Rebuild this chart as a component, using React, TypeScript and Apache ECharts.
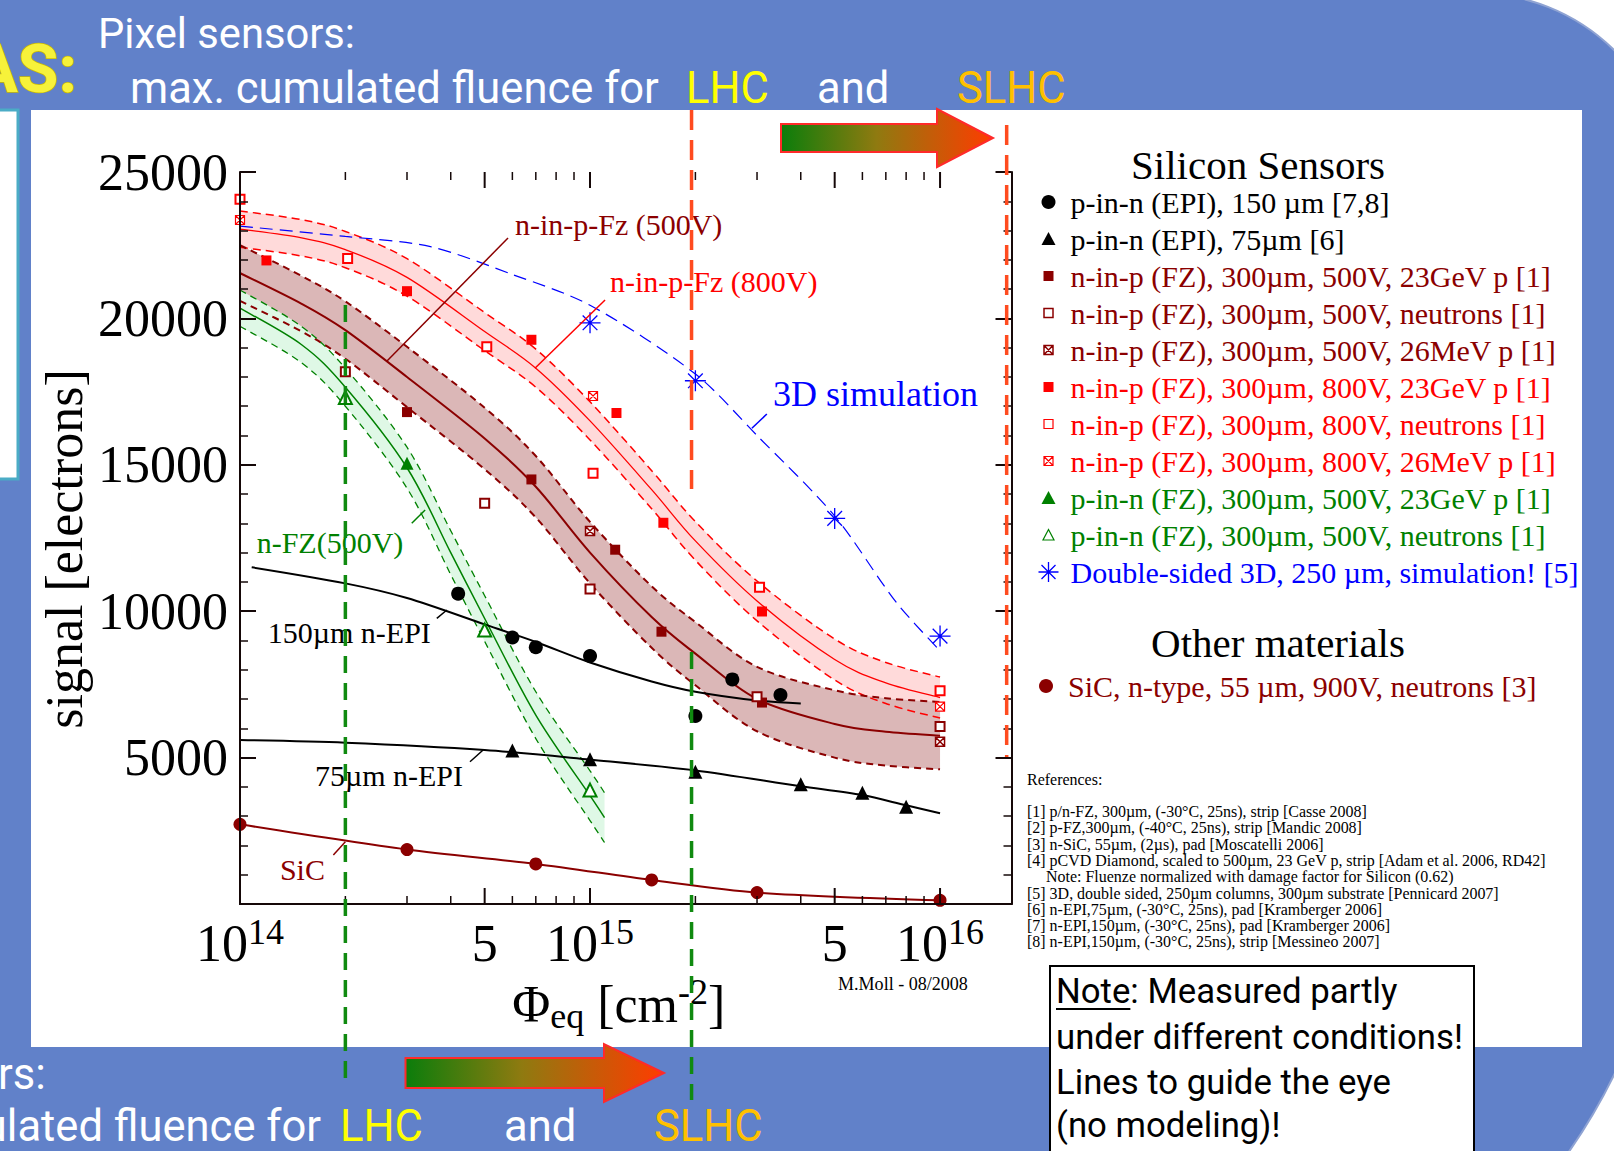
import React, { useEffect, useRef } from 'react';
import * as echarts from 'echarts';

const SERIF = '"Liberation Serif", "Times New Roman", serif';
const SANS = 'Roboto, "Open Sans", sans-serif';
const MAROON = '#8b0000';
const RED = '#ff0000';
const GREEN = '#008000';
const BLUE = '#0000ff';
const BLACK = '#000000';
const AXIS = '#150808';

// ---------- axes ----------
const X_MIN = 1e14;
const X_MAX = 1.6e16;
const Y_MIN = 0;
const Y_MAX = 25000;
const Y_STEP = 5000;
const xMajorTicks = [5e14, 1e15, 5e15, 1e16];
const xMinorTicks = [2e14, 3e14, 4e14, 6e14, 7e14, 8e14, 9e14, 2e15, 3e15, 4e15, 6e15, 7e15, 8e15, 9e15];
const xFiveLabels = [5e14, 5e15];

// ---------- guide bands (center +- half width) ----------
const bandX = [1e14, 1.5e14, 2e14, 3e14, 5e14, 7e14, 1e15, 1.5e15, 2e15, 3e15, 5e15, 7e15, 1e16];
const band800Center = [23050, 22750, 22350, 21400, 19550, 18300, 16500, 14150, 12400, 10350, 8350, 7550, 7050];
const band800Half = [620, 620, 620, 640, 650, 650, 650, 650, 660, 680, 700, 700, 700];
const band500Center = [21550, 20500, 19600, 18000, 15900, 14250, 12000, 9800, 8550, 7000, 6150, 5880, 5750];
const band500Half = [950, 950, 980, 1030, 1050, 1050, 1050, 1050, 1080, 1100, 1150, 1150, 1150];
const bandFzX = [1e14, 1.5e14, 2e14, 3e14, 4e14, 5e14, 7e14, 1e15, 1.1e15];
const bandFzCenter = [20350, 19100, 17650, 14900, 12000, 9750, 6450, 3700, 2950];
const bandFzHalf = [620, 620, 650, 700, 750, 780, 800, 850, 850];

// ---------- guide lines ----------
const epi150LineX = [1.08e14, 2e14, 3e14, 5e14, 7e14, 1e15, 1.5e15, 2e15, 3e15, 4e15];
const epi150LineY = [11500, 10950, 10450, 9550, 8950, 8250, 7600, 7250, 6950, 6850];
const epi75LineX = [1e14, 2e14, 5e14, 1e15, 2e15, 4e15, 6e15, 8e15, 1e16];
const epi75LineY = [5600, 5510, 5260, 4930, 4560, 4020, 3720, 3370, 3100];
const sim3dLineX = [1e14, 2e14, 3.5e14, 6e14, 1e15, 2e15, 3e15, 5e15, 7.5e15, 1e16];
const sim3dLineY = [23150, 22800, 22450, 21500, 20450, 18100, 16000, 13250, 10300, 8650];

// ---------- measured points ----------
const epi150X = [4.2e14, 6e14, 7e14, 1e15, 2e15, 2.55e15, 3.5e15];
const epi150Y = [10600, 9100, 8770, 8470, 6420, 7670, 7140];
const epi75X = [6e14, 1e15, 2e15, 4e15, 6e15, 8e15];
const epi75Y = [5240, 4940, 4520, 4090, 3800, 3320];
const fz500pX = [3e14, 6.8e14, 1.18e15, 1.6e15, 3.1e15];
const fz500pY = [16800, 14500, 12100, 9300, 6880];
const fz500nX = [2e14, 5e14, 1e15, 3e15, 1e16];
const fz500nY = [18180, 13690, 10760, 7080, 6060];
const fz500mX = [1e15, 1e16];
const fz500mY = [12740, 5540];
const fz800pX = [1.19e14, 3e14, 6.8e14, 1.19e15, 1.62e15, 3.1e15];
const fz800pY = [21980, 20930, 19270, 16770, 13020, 9990];
const fz800nX = [1e14, 2.03e14, 5.07e14, 1.02e15, 3.05e15, 1e16];
const fz800nY = [24070, 22050, 19030, 14710, 10820, 7280];
const fz800mX = [1e14, 1.02e15, 1e16];
const fz800mY = [23360, 17350, 6740];
const pfzpX = [3e14];
const pfzpY = [15050];
const pfznX = [2e14, 5e14, 1e15];
const pfznY = [17300, 9360, 3890];
const sim3dX = [1e15, 2e15, 5e15, 1e16];
const sim3dY = [19850, 17870, 13170, 9150];
const sicX = [1e14, 3e14, 7e14, 1.5e15, 3e15, 1e16];
const sicY = [2720, 1860, 1370, 820, 390, 125];

// ---------- legend ----------
const siliconNames = [
  'p-in-n (EPI), 150 µm [7,8]',
  'p-in-n (EPI), 75µm [6]',
  'n-in-p (FZ), 300µm, 500V, 23GeV p [1]',
  'n-in-p (FZ), 300µm, 500V, neutrons [1]',
  'n-in-p (FZ), 300µm, 500V, 26MeV p [1]',
  'n-in-p (FZ), 300µm, 800V, 23GeV p [1]',
  'n-in-p (FZ), 300µm, 800V, neutrons [1]',
  'n-in-p (FZ), 300µm, 800V, 26MeV p [1]',
  'p-in-n (FZ), 300µm, 500V, 23GeV p [1]',
  'p-in-n (FZ), 300µm, 500V, neutrons [1]',
  'Double-sided 3D, 250 µm, simulation! [5]',
];
const siliconColors = [BLACK, BLACK, MAROON, MAROON, MAROON, RED, RED, RED, GREEN, GREEN, BLUE];
const otherNames = ['SiC, n-type, 55 µm, 900V, neutrons [3]'];

// ---------- curve annotations ----------
const annotTexts = ['n-in-p-Fz (500V)', 'n-in-p-Fz (800V)', '3D simulation', 'n-FZ(500V)', '150µm n-EPI', '75µm n-EPI', 'SiC'];
const annotColors = [MAROON, RED, BLUE, GREEN, BLACK, BLACK, MAROON];
const annotSizes = [30, 30, 36, 30, 30, 30, 30];
const annotX = [6.1e14, 1.14e15, 3.33e15, 1.116e14, 1.2e14, 1.637e14, 1.3e14];
const annotY = [23224, 21260, 17418, 12347, 9273, 4372, 1178];
const pointerFromX = [2.63e14, 6.96e14, 2.9e15, 3.095e14, 3.65e14, 4.54e14, 1.848e14];
const pointerFromY = [18545, 18296, 16247, 13002, 9757, 4860, 1673];
const pointerToX = [5.83e14, 1.104e15, 3.2e15, 3.38e14, 3.9e14, 4.95e14, 2.0e14];
const pointerToY = [22746, 20628, 16735, 13456, 10041, 5260, 2128];

// ---------- fluence markers (slide overlay) ----------
const lhcFluence = 2e14;
const slhcFluence = 1.95e15;
const slhcEndFluence = 1.55e16;

// ---------- references ----------
const refLines = [
  '[1] p/n-FZ, 300µm, (-30°C, 25ns), strip [Casse 2008]',
  '[2] p-FZ,300µm, (-40°C, 25ns), strip [Mandic 2008]',
  '[3] n-SiC, 55µm, (2µs), pad [Moscatelli 2006]',
  '[4] pCVD Diamond, scaled to 500µm, 23 GeV p, strip [Adam et al. 2006, RD42]',
  'Note: Fluenze normalized with damage factor for Silicon (0.62)',
  '[5] 3D, double sided, 250µm columns, 300µm substrate [Pennicard 2007]',
  '[6] n-EPI,75µm, (-30°C, 25ns), pad [Kramberger 2006]',
  '[7] n-EPI,150µm, (-30°C, 25ns), pad [Kramberger 2006]',
  '[8] n-EPI,150µm, (-30°C, 25ns), strip [Messineo 2007]',
];
const noteLines = ['Note: Measured partly', 'under different conditions!', 'Lines to guide the eye', '(no modeling)!'];

const BOXX = 'path://M0,0H10V10H0ZM0,0L10,10M10,0L0,10';
const STAR = 'path://M10,0V20M0,10H20M3,3L17,17M17,3L3,17';
const SMOOTH = 0.3;
const CR = 1 / 6;

const pairs = (xs: number[], ys: number[]) => xs.map((x, i) => [x, ys[i]]);

// round legend icon inside a 20x20 box
function circleIcon(r: number) {
  let d = 'path://M0,0M20,20';
  for (let k = 0; k <= 28; k++) {
    const a = (k / 28) * 2 * Math.PI;
    d += (k === 0 ? 'M' : 'L') + (10 + r * Math.cos(a)).toFixed(2) + ',' + (10 + r * Math.sin(a)).toFixed(2);
  }
  return d + 'Z';
}

// Catmull-Rom spline through pixel points, as SVG path commands
function crPath(pts: number[][], move = true) {
  let d = (move ? 'M' : 'L') + pts[0][0] + ',' + pts[0][1];
  for (let i = 0; i < pts.length - 1; i++) {
    const p0 = pts[Math.max(0, i - 1)];
    const p1 = pts[i];
    const p2 = pts[i + 1];
    const p3 = pts[Math.min(pts.length - 1, i + 2)];
    const c1x = p1[0] + (p2[0] - p0[0]) * CR;
    const c1y = p1[1] + (p2[1] - p0[1]) * CR;
    const c2x = p2[0] - (p3[0] - p1[0]) * CR;
    const c2y = p2[1] - (p3[1] - p1[1]) * CR;
    d += 'C' + c1x + ',' + c1y + ',' + c2x + ',' + c2y + ',' + p2[0] + ',' + p2[1];
  }
  return d;
}

function lineSeries(name: string, xs: number[], ys: number[], color: string, width: number, dash: any, z = 3) {
  return {
    type: 'line', name, data: pairs(xs, ys), smooth: SMOOTH, symbol: 'none',
    silent: true, z, lineStyle: { color, width, type: dash },
  };
}

function band(id: string, xs: number[], c: number[], h: number[], fill: string, edge: string, edgeW: number, dash: number[], centerW: number) {
  const lo = c.map((v, i) => v - h[i]);
  const hi = c.map((v, i) => v + h[i]);
  const rows = xs.map((x, i) => [x, lo[i], c[i], hi[i]]);
  const pts = (api: any, ys: number[]) => xs.map((x, i) => api.coord([x, ys[i]]));
  const empty = { type: 'group', children: [] };
  const fillSeries = {
    type: 'custom', name: id + ' band', silent: true, z: 1, data: rows, encode: { x: 0, y: [1, 3] },
    renderItem: (p: any, api: any) => {
      if (p.dataIndex !== 0) return empty;
      const up = pts(api, hi);
      const dn = pts(api, lo).reverse();
      return { type: 'path', shape: { pathData: crPath(up, true) + crPath(dn, false) + 'Z' }, style: { fill, stroke: 'none' } };
    },
  };
  const lineSeriesC = {
    type: 'custom', name: id + ' edges', silent: true, z: 3, data: rows, encode: { x: 0, y: [1, 3] },
    renderItem: (p: any, api: any) => {
      if (p.dataIndex !== 0) return empty;
      return {
        type: 'group',
        children: [
          { type: 'path', shape: { pathData: crPath(pts(api, hi)) }, style: { fill: 'none', stroke: edge, lineWidth: edgeW, lineDash: dash } },
          { type: 'path', shape: { pathData: crPath(pts(api, lo)) }, style: { fill: 'none', stroke: edge, lineWidth: edgeW, lineDash: dash } },
          { type: 'path', shape: { pathData: crPath(pts(api, c)) }, style: { fill: 'none', stroke: edge, lineWidth: centerW } },
        ],
      };
    },
  };
  return { fillSeries, lineSeriesC };
}

function scatter(name: string, xs: number[], ys: number[], symbol: string, size: number, itemStyle: any) {
  return { type: 'scatter', name, data: pairs(xs, ys), symbol, symbolSize: size, silent: true, z: 5, itemStyle: { opacity: 1, ...itemStyle } };
}

let _ctx: any = null;
function textWidth(t: string, size: number, family: string, weight = 'normal') {
  if (!_ctx) _ctx = document.createElement('canvas').getContext('2d');
  _ctx.font = `${weight} ${size}px ${family}`;
  return _ctx.measureText(t).width;
}
function fitSize(t: string, target: number, family: string, weight = 'normal') {
  return (100 * target) / textWidth(t, 100, family, weight);
}

function buildOption() {
  const b800 = band('b800', bandX, band800Center, band800Half, '#ffdada', RED, 1.5, [8, 5], 1.3);
  const b500 = band('b500', bandX, band500Center, band500Half, '#dbb7b7', MAROON, 2, [7, 5], 2);
  const bfz = band('bfz', bandFzX, bandFzCenter, bandFzHalf, '#dff8e6', GREEN, 1.3, [7, 5], 1.5);

  const CIRC = circleIcon(7);
  const SQ = 'path://M0,0M20,20M5,5H15V15H5Z';
  const SQO = 'path://M0,0M20,20M5.5,5.5H14.5V14.5H5.5Z';
  const SQX = 'path://M0,0M20,20M5.5,5.5H14.5V14.5H5.5ZM5.5,5.5L14.5,14.5M14.5,5.5L5.5,14.5';
  const TRI = 'path://M0,0M20,20M10,3L17,16H3Z';
  const TRIO = 'path://M0,0M20,20M10,4.5L15.5,15H4.5Z';
  const legendIcon = [
    { icon: CIRC, itemStyle: { color: BLACK } },
    { icon: TRI, itemStyle: { color: BLACK } },
    { icon: SQ, itemStyle: { color: MAROON } },
    { icon: SQO, itemStyle: { color: '#fff', borderColor: MAROON, borderWidth: 1.5 } },
    { icon: SQX, itemStyle: { color: '#fff', borderColor: MAROON, borderWidth: 1.5 } },
    { icon: SQ, itemStyle: { color: RED } },
    { icon: SQO, itemStyle: { color: '#fff', borderColor: RED, borderWidth: 1.2 } },
    { icon: SQX, itemStyle: { color: '#fff', borderColor: RED, borderWidth: 1.2 } },
    { icon: TRI, itemStyle: { color: GREEN } },
    { icon: TRIO, itemStyle: { color: '#fff', borderColor: GREEN, borderWidth: 1.2 } },
    { icon: STAR, itemStyle: { color: 'none', borderColor: BLUE, borderWidth: 1.3 } },
  ];

  const axisLineStyle = { color: AXIS, width: 2 };

  return {
    animation: false,
    backgroundColor: 'transparent',
    grid: { left: 240, top: 172, right: 602.5, bottom: 247, containLabel: false },
    xAxis: [
      {
        type: 'log', logBase: 10, min: X_MIN, max: X_MAX, position: 'bottom', z: 10,
        axisLine: { show: true, lineStyle: axisLineStyle }, axisTick: { show: false }, splitLine: { show: false }, minorTick: { show: false },
        name: '{b|Φ}{sub|eq}{b| [cm}{sup|-2}{b|]}', nameLocation: 'middle', nameGap: 66,
        nameTextStyle: {
          padding: [0, 14, 0, 0],
          rich: {
            b: { fontSize: 52, fontFamily: SERIF, color: BLACK, lineHeight: 60, verticalAlign: 'middle' },
            sub: { fontSize: 36, fontFamily: SERIF, color: BLACK, lineHeight: 30, verticalAlign: 'bottom' },
            sup: { fontSize: 36, fontFamily: SERIF, color: BLACK, lineHeight: 30, verticalAlign: 'top' },
          },
        },
        axisLabel: {
          margin: 9.5,
          formatter: (v: number) => {
            const l = Math.log10(v);
            const e = Math.round(l);
            return Math.abs(l - e) < 1e-6 ? `{b|10}{s|${e}}` : '';
          },
          rich: {
            b: { fontSize: 52, fontFamily: SERIF, color: BLACK, lineHeight: 60, verticalAlign: 'middle' },
            s: { fontSize: 36, fontFamily: SERIF, color: BLACK, lineHeight: 30, verticalAlign: 'top' },
          },
        },
      },
      {
        type: 'log', logBase: 10, min: X_MIN, max: X_MAX, position: 'top', z: 10,
        axisLine: { show: true, lineStyle: axisLineStyle }, axisTick: { show: false }, axisLabel: { show: false }, splitLine: { show: false },
      },
    ],
    yAxis: [
      {
        type: 'value', min: Y_MIN, max: Y_MAX, interval: Y_STEP, position: 'left', z: 10,
        axisLine: { show: true, lineStyle: axisLineStyle },
        axisTick: { show: true, inside: true, length: 16, lineStyle: { color: AXIS, width: 2 } },
        minorTick: { show: true, splitNumber: 5, length: 8, lineStyle: { color: AXIS, width: 1.5 } },
        splitLine: { show: false },
        axisLabel: { margin: 12, fontSize: 52, fontFamily: SERIF, color: BLACK, formatter: (v: number) => (v === 0 ? '' : String(v)) },
        name: 'signal [electrons]', nameLocation: 'middle', nameGap: 150,
        nameTextStyle: { fontSize: 52, fontFamily: SERIF, color: BLACK, padding: [0, 22, 0, 0] },
      },
      {
        type: 'value', min: Y_MIN, max: Y_MAX, interval: Y_STEP, position: 'right', z: 10,
        axisLine: { show: true, lineStyle: axisLineStyle },
        axisTick: { show: true, inside: true, length: 16, lineStyle: { color: AXIS, width: 2 } },
        minorTick: { show: true, splitNumber: 5, length: 8, lineStyle: { color: AXIS, width: 1.5 } },
        splitLine: { show: false }, axisLabel: { show: false },
      },
    ],
    legend: [
      {
        orient: 'vertical', left: 1036, top: 187, padding: 0, itemGap: 7, itemWidth: 34, itemHeight: 20,
        selectedMode: false, textStyle: { fontFamily: SERIF, fontSize: 30, lineHeight: 30 },
        data: siliconNames.map((n, i) => ({ name: n, textStyle: { color: siliconColors[i] }, ...legendIcon[i] })),
      },
      {
        orient: 'vertical', left: 1036, top: 671, padding: 0, itemWidth: 34, itemHeight: 20,
        selectedMode: false, textStyle: { fontFamily: SERIF, fontSize: 30, lineHeight: 30 },
        data: otherNames.map((n) => ({ name: n, textStyle: { color: MAROON }, icon: CIRC, itemStyle: { color: MAROON } })),
      },
    ],
    series: [
      b800.fillSeries,
      b500.fillSeries,
      bfz.fillSeries,
      b800.lineSeriesC,
      b500.lineSeriesC,
      bfz.lineSeriesC,
      lineSeries('3D guide', sim3dLineX, sim3dLineY, BLUE, 1.2, [13, 7]),
      lineSeries('150um guide', epi150LineX, epi150LineY, BLACK, 2, 'solid'),
      lineSeries('75um guide', epi75LineX, epi75LineY, BLACK, 2, 'solid'),
      lineSeries('SiC guide', sicX, sicY, MAROON, 2, 'solid'),
      scatter(siliconNames[0], epi150X, epi150Y, 'circle', 14, { color: BLACK }),
      scatter(siliconNames[1], epi75X, epi75Y, 'triangle', 14, { color: BLACK }),
      scatter(siliconNames[2], fz500pX, fz500pY, 'rect', 10, { color: MAROON }),
      scatter(siliconNames[3], fz500nX, fz500nY, 'emptyRect', 9, { color: MAROON, borderWidth: 1.5 }),
      scatter(siliconNames[4], fz500mX, fz500mY, BOXX, 9, { color: '#fff', borderColor: MAROON, borderWidth: 1.5 }),
      scatter(siliconNames[5], fz800pX, fz800pY, 'rect', 10, { color: RED }),
      scatter(siliconNames[6], fz800nX, fz800nY, 'emptyRect', 9, { color: RED, borderWidth: 1.2 }),
      scatter(siliconNames[7], fz800mX, fz800mY, BOXX, 9, { color: '#fff', borderColor: RED, borderWidth: 1.2 }),
      scatter(siliconNames[8], pfzpX, pfzpY, 'triangle', 13, { color: GREEN }),
      scatter(siliconNames[9], pfznX, pfznY, 'emptyTriangle', 13, { color: GREEN, borderWidth: 1.2 }),
      scatter(siliconNames[10], sim3dX, sim3dY, STAR, 21, { color: 'none', borderColor: BLUE, borderWidth: 1.3 }),
      scatter(otherNames[0], sicX, sicY, 'circle', 13, { color: MAROON }),
      {
        type: 'custom', name: 'x ticks', silent: true, z: 11,
        data: [...xMajorTicks.map((v) => [v, 1]), ...xMinorTicks.map((v) => [v, 0])],
        encode: { x: 0 },
        renderItem: (_p: any, api: any) => {
          const v = api.value(0);
          const len = api.value(1) === 1 ? 16 : 8;
          const b = api.coord([v, Y_MIN]);
          const t = api.coord([v, Y_MAX]);
          const st = { stroke: AXIS, lineWidth: api.value(1) === 1 ? 2 : 1.5 };
          return {
            type: 'group',
            children: [
              { type: 'line', shape: { x1: b[0], y1: b[1], x2: b[0], y2: b[1] - len }, style: st },
              { type: 'line', shape: { x1: t[0], y1: t[1], x2: t[0], y2: t[1] + len }, style: st },
            ],
          };
        },
      },
      {
        type: 'custom', name: 'x five labels', silent: true, z: 11,
        data: xFiveLabels.map((v) => [v, Y_MIN]),
        encode: { x: 0, y: 1 },
        renderItem: (_p: any, api: any) => {
          const p = api.coord([api.value(0), api.value(1)]);
          return { type: 'text', x: p[0], y: p[1] + 39.5, style: { text: '5', fontSize: 52, fontFamily: SERIF, fill: BLACK, align: 'center', verticalAlign: 'middle' } };
        },
      },
      {
        type: 'custom', name: 'curve labels', silent: true, z: 6,
        data: annotTexts.map((_t, i) => [annotX[i], annotY[i], pointerFromX[i], pointerFromY[i], pointerToX[i], pointerToY[i], i]),
        encode: { x: 0, y: 1 },
        renderItem: (_p: any, api: any) => {
          const i = api.value(6);
          const p = api.coord([api.value(0), api.value(1)]);
          const a = api.coord([api.value(2), api.value(3)]);
          const b = api.coord([api.value(4), api.value(5)]);
          return {
            type: 'group',
            children: [
              { type: 'line', shape: { x1: a[0], y1: a[1], x2: b[0], y2: b[1] }, style: { stroke: annotColors[i], lineWidth: 1.5 } },
              { type: 'text', x: p[0], y: p[1], style: { text: annotTexts[i], fill: annotColors[i], fontSize: annotSizes[i], fontFamily: SERIF, align: 'left', verticalAlign: 'middle' } },
            ],
          };
        },
      },
    ],
  };
}

function txt(text: string, x: number, y: number, size: number, fill: string, family = SANS, extra: any = {}) {
  return { type: 'text', x, y, z: 50, silent: true, style: { text, fontSize: size, fontFamily: family, fill, align: 'left', verticalAlign: 'middle', ...extra } };
}

function buildGraphic(chart: any) {
  const xp = (v: number) => chart.convertToPixel({ xAxisIndex: 0 }, v) as number;
  const g: any[] = [];
  // slide background
  g.push({ type: 'rect', z: -30, silent: true, shape: { x: -20, y: -7, width: 1693, height: 1407, r: [0, 198, 580, 0] }, style: { fill: '#6181c9', stroke: '#8fa3d3', lineWidth: 2 } });
  g.push({ type: 'rect', z: -29, silent: true, shape: { x: 31, y: 110, width: 1551, height: 937 }, style: { fill: '#ffffff' } });
  g.push({ type: 'rect', z: -29, silent: true, shape: { x: -20, y: 110, width: 38, height: 369 }, style: { fill: '#ffffff', stroke: '#4bacc6', lineWidth: 3 } });

  // headline texts
  const s1 = fitSize('Pixel sensors:', 257, SANS);
  g.push(txt('Pixel sensors:', 98, 33, s1, '#ffffff'));
  const s2 = fitSize('max. cumulated fluence for', 529, SANS);
  g.push(txt('max. cumulated fluence for', 130, 88, s2, '#ffffff'));
  g.push(txt('LHC', 686, 88, s2, '#ffff00'));
  g.push(txt('and', 817, 88, s2, '#ffffff'));
  g.push(txt('SLHC', 957, 88, s2, '#ffc000'));
  g.push(txt('rs:', -2, 1074, s2, '#ffffff'));
  const wl = textWidth('ulated fluence for', s2, SANS);
  g.push(txt('ulated fluence for', 321 - wl, 1126, s2, '#ffffff'));
  g.push(txt('LHC', 340, 1126, s2, '#ffff00'));
  g.push(txt('and', 504, 1126, s2, '#ffffff'));
  g.push(txt('SLHC', 654, 1126, s2, '#ffc000'));
  const wa = textWidth('AS:', 66, SANS, 'bold');
  g.push(txt('AS:', 77 - wa, 69, 66, '#f7f23a', SANS, { fontWeight: 'bold', stroke: '#c9b800', lineWidth: 1.5 }));

  // legend headings
  g.push({ type: 'text', x: 1258, y: 165, z: 50, silent: true, style: { text: 'Silicon Sensors', fontSize: 41, fontFamily: SERIF, fill: BLACK, align: 'center', verticalAlign: 'middle' } });
  g.push({ type: 'text', x: 1278, y: 643, z: 50, silent: true, style: { text: 'Other materials', fontSize: 41, fontFamily: SERIF, fill: BLACK, align: 'center', verticalAlign: 'middle' } });

  // references
  const rs = Math.min(16.3, fitSize(refLines[3], 519, SERIF));
  g.push(txt('References:', 1027, 779, rs, BLACK, SERIF));
  refLines.forEach((l, i) => g.push(txt(l, i === 4 ? 1046 : 1027, 811.5 + 16.3 * i, rs, BLACK, SERIF)));
  const ms = fitSize('M.Moll - 08/2008', 130, SERIF);
  g.push(txt('M.Moll - 08/2008', 838, 984, ms, BLACK, SERIF));

  // note box
  g.push({ type: 'rect', z: 45, silent: true, shape: { x: 1050, y: 966, width: 424, height: 220 }, style: { fill: '#ffffff', stroke: '#000000', lineWidth: 2 } });
  const ns = fitSize(noteLines[1], 407, SANS);
  const noteY = [991, 1037, 1082, 1125];
  noteLines.forEach((l, i) => g.push(txt(l, 1056, noteY[i], ns, BLACK)));
  const nw = textWidth('Note', ns, SANS);
  const uy = noteY[0] + 0.345 * ns + 6;
  g.push({ type: 'line', z: 50, silent: true, shape: { x1: 1056, y1: uy, x2: 1056 + nw, y2: uy }, style: { stroke: '#000', lineWidth: 2 } });

  // arrows
  const grad = () => new echarts.graphic.LinearGradient(0, 0, 1, 0, [
    { offset: 0, color: '#0b7d0b' },
    { offset: 0.45, color: '#8f7a10' },
    { offset: 1, color: '#ff3c00' },
  ]);
  g.push({ type: 'polygon', z: 55, silent: true, shape: { points: [[781, 124], [937, 124], [937, 109], [993, 138], [937, 167], [937, 152], [781, 152]] }, style: { fill: grad(), stroke: '#ff2a2a', lineWidth: 2 } });
  g.push({ type: 'polygon', z: 55, silent: true, shape: { points: [[405.5, 1058], [604, 1058], [604, 1044], [664, 1073], [604, 1102], [604, 1088], [405.5, 1088]] }, style: { fill: grad(), stroke: '#ff2a2a', lineWidth: 2 } });

  // fluence guide lines
  const vline = (x: number, y1: number, y2: number, color: string, dash: number[]) => ({
    type: 'line', z: 60, silent: true, shape: { x1: x, y1, x2: x, y2 }, style: { stroke: color, lineWidth: 3.5, lineDash: dash },
  });
  const xl = xp(lhcFluence);
  const xs = xp(slhcFluence);
  const xe = xp(slhcEndFluence);
  g.push(vline(xl, 305, 1080, '#108a10', [17, 10]));
  g.push(vline(xs, 110, 489, '#ff4b1f', [20, 10]));
  g.push(vline(xs, 652, 1100, '#108a10', [17, 10]));
  g.push(vline(xe, 125, 757, '#ff4b1f', [20, 10]));
  return g;
}

export default function App() {
  const ref = useRef<HTMLDivElement>(null);
  useEffect(() => {
    const chart = echarts.init(ref.current as HTMLDivElement, undefined, { renderer: 'svg' });
    chart.setOption(buildOption() as any);
    chart.setOption({ graphic: { elements: buildGraphic(chart) } } as any);
    return () => chart.dispose();
  }, []);
  return <div ref={ref} style={{ position: 'absolute', left: 0, top: 0, width: 1614, height: 1151, background: '#ffffff' }} />;
}
